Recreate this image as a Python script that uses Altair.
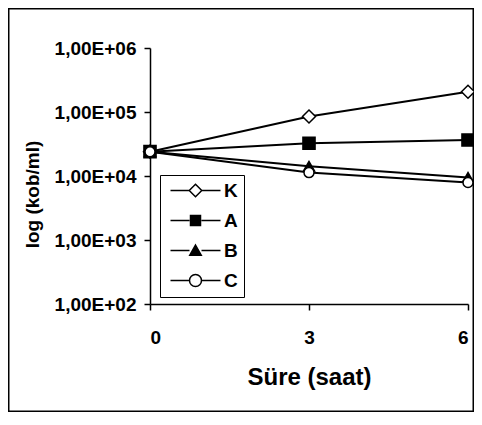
import altair as alt
import pandas as pd

times = [0, 3, 6]
series = ["K", "A", "B", "C"]
K = [2.4e4, 8.5e4, 2.07e5]
A = [2.4e4, 3.25e4, 3.65e4]
B = [2.4e4, 1.42e4, 9.5e3]
C = [2.4e4, 1.13e4, 7.9e3]
y_ticks = [1e2, 1e3, 1e4, 1e5, 1e6]
x_ticks = [0, 3, 6]

rows = []
for name, vals in zip(series, [K, A, B, C]):
    for t, v in zip(times, vals):
        rows.append({"t": t, "v": v, "s": name})
df = pd.DataFrame(rows)

FONT = "Liberation Sans"
W, H = 318, 256
PL, PT, PR, PB = 142, 40, 6, 108

x_enc = alt.X("t:Q", scale=alt.Scale(domain=[0, 6], nice=False),
              axis=alt.Axis(values=x_ticks, title="Süre (saat)", grid=False,
                            labelFontSize=19, labelFontWeight="bold", labelFont=FONT,
                            labelPadding=18, tickSize=6, tickColor="black",
                            domainColor="black", domainWidth=1.5, tickWidth=1.5,
                            labelColor="black", titleFontSize=24, titleFont=FONT,
                            titleFontWeight="bold", titleColor="black", titlePadding=18))
y_enc = alt.Y("v:Q", scale=alt.Scale(type="log", domain=[1e2, 1e6], nice=False),
              axis=alt.Axis(values=y_ticks, title="log (kob/ml)", grid=False,
                            labelExpr="'1,00E+0' + format(log(datum.value)/LN10, '.0f')",
                            labelFontSize=19, labelFontWeight="bold", labelFont=FONT,
                            labelPadding=8, tickSize=6, tickColor="black",
                            domainColor="black", domainWidth=1.5, tickWidth=1.5,
                            labelColor="black", titleFontSize=19, titleFont=FONT,
                            titleFontWeight="bold", titleColor="black",
                            titleX=-108, titleY=146, titleAlign="center",
                            titleBaseline="bottom", titleAngle=-90))

base = alt.Chart(df)

lines = base.mark_line(color="black", strokeWidth=2).encode(
    x=x_enc, y=y_enc, detail="s:N")

shape_scale = alt.Scale(domain=series, range=["diamond", "square", "triangle-up", "circle"])
fill_scale = alt.Scale(domain=series, range=["white", "black", "black", "white"])
stroke_scale = alt.Scale(domain=series, range=["black", "black", "black", "black"])
size_scale = alt.Scale(domain=series, range=[170, 100, 110, 140])

points = base.mark_point(stroke="black", strokeWidth=1.5, opacity=1, filled=False).encode(
    x="t:Q", y="v:Q",
    shape=alt.Shape("s:N", scale=shape_scale, legend=None),
    fill=alt.Fill("s:N", scale=fill_scale, legend=None),
    size=alt.Size("s:N", scale=size_scale, legend=None),
)

line_part = "M-5,0H-1.2M1.2,0H5"
leg_paths = [
    line_part + "M0,-1.25L1.25,0L0,1.25L-1.25,0Z",
    line_part + "M-1,-1H1V1H-1Z",
    line_part + "M0,-1.1L1.15,0.95H-1.15Z",
    line_part + "M1.2,0A1.2,1.2 0 1,1 -1.2,0A1.2,1.2 0 1,1 1.2,0Z",
]
legend = alt.Legend(title=None, orient="none", legendX=10, legendY=127,
                    strokeColor="black", padding=6, symbolSize=100,
                    symbolOffset=20, labelOffset=19, rowPadding=10,
                    symbolStrokeColor="black", symbolStrokeWidth=1.5, symbolOpacity=1,
                    labelFont=FONT, labelFontSize=19, labelFontWeight="bold",
                    labelColor="black")
leg_layer = base.mark_point(opacity=0, size=100, filled=False).encode(
    x="t:Q", y="v:Q",
    shape=alt.Shape("s:N", scale=alt.Scale(domain=series, range=leg_paths), legend=legend),
    fill=alt.Fill("s:N", scale=fill_scale, legend=legend),
    stroke=alt.Stroke("s:N", scale=stroke_scale, legend=legend),
)

frame = alt.Chart(pd.DataFrame({"a": [0]})).mark_rect(
    fill=None, stroke="black", strokeWidth=1.5).encode(
    x=alt.value(-PL + 0.75), x2=alt.value(W + PR - 0.75),
    y=alt.value(-PT + 0.75), y2=alt.value(H + PB - 0.75))

chart = alt.layer(frame, lines, points, leg_layer).resolve_scale(
    shape="independent", fill="independent", stroke="independent").properties(
    width=W, height=H,
    autosize=alt.AutoSizeParams(type="none"),
    padding={"left": PL, "top": PT, "right": PR, "bottom": PB},
    background="white",
).configure_view(stroke=None)

chart.save("out.html", embed_options={"renderer": "svg", "actions": False})
